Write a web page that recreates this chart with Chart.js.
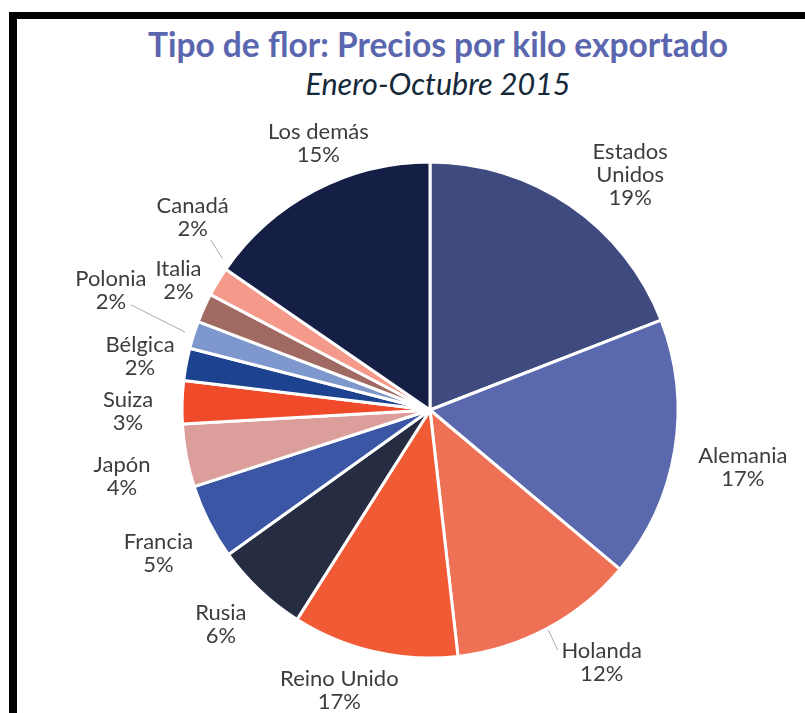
<!DOCTYPE html>
<html>
<head>
<meta charset="utf-8">
<script src="https://cdn.jsdelivr.net/npm/chart.js@4"></script>
<style>
    body { margin: 0; background: #fff; }
    #wrap { position: relative; width: 805px; height: 713px; overflow: hidden; }
    #frame {
        position: absolute; left: 9px; top: 12px; width: 820px; height: 699px;
        border-left: 8px solid #000; border-top: 7px solid #000; border-bottom: 2px solid #555;
    }
    .titulo {
        position: absolute; left: 0; width: 876px; text-align: center;
        font-family: Lato, sans-serif; line-height: 1; white-space: nowrap;
    }
    #t1 { top: 28px; font-size: 33.5px; font-weight: 700; color: #5a66ae; }
    #t2 { top: 68px; font-size: 30.5px; font-style: italic; color: #14283a; }
    canvas { position: absolute; left: 0; top: 0; }
</style>
</head>
<body>
<div id="wrap">
    <div id="frame"></div>
    <div class="titulo" id="t1">Tipo de flor: Precios por kilo exportado</div>
    <div class="titulo" id="t2">Enero-Octubre 2015</div>
    <canvas id="chart" width="805" height="713"></canvas>
</div>
<script>
// paises, en el orden de las agujas del reloj desde arriba
let paises = ["Estados\nUnidos", "Alemania", "Holanda", "Reino Unido", "Rusia", "Francia",
    "Japón", "Suiza", "Bélgica", "Polonia", "Italia", "Canadá", "Los demás"];
// tamaño de cada porcion
let valores = [19.1, 17.0, 12.1, 10.8, 6.1, 4.9, 4.1, 2.8, 2.1, 1.8, 1.9, 1.9, 15.4];
// porcentaje que se muestra en la etiqueta
let textoPct = ["19%", "17%", "12%", "17%", "6%", "5%", "4%", "3%", "2%", "2%", "2%", "2%", "15%"];

let colores = ["#3f4a7e", "#5a68ae", "#ef7155", "#f05a35", "#262d42", "#3a56a5",
    "#dc9e9a", "#ef4a2a", "#1d4290", "#7e97cc", "#a06a62", "#f59a8a", "#151e45"];

// ajuste de etiquetas: [giro en grados, distancia fuera del borde]
let ajuste = [[6, 61], [1, 70], [-6, 57], [5, 46], [1, 51], [-1, 59], [-1.5, 67],
    [-2, 54], [0, 47], [3, 93], [3, 35], [8, 58], [5, 41]];
// lineas guia: indice, desplazamiento desde la etiqueta, distancia al borde, giro
let guias = [
    { i: 2, dx: -44, dy: -12, r: 2, giro: 0 },
    { i: 9, dx: 20, dy: 15, r: 9, giro: 0 },
    { i: 11, dx: 18, dy: 23, r: 9, giro: 5 }
];

const etiquetas = {
    id: "etiquetas",
    afterDatasetsDraw(chart) {
        let ctx = chart.ctx;
        let meta = chart.getDatasetMeta(0);
        ctx.save();
        ctx.font = "22px Lato";
        ctx.fillStyle = "#3d3d3d";
        ctx.textAlign = "center";
        ctx.textBaseline = "alphabetic";
        let pos = [];
        meta.data.forEach((arc, i) => {
            let p = arc.getProps(["x", "y", "startAngle", "endAngle", "outerRadius"], true);
            let mid = (p.startAngle + p.endAngle) / 2;
            let ang = mid + ajuste[i][0] * Math.PI / 180;
            let r = p.outerRadius + ajuste[i][1];
            let lx = p.x + Math.cos(ang) * r;
            let ly = p.y + Math.sin(ang) * r;
            pos[i] = { lx, ly, mid, p };
            let lineas = paises[i].split("\n").concat(textoPct[i]);
            let b1 = ly - (23 * (lineas.length - 1) - 15) / 2;
            lineas.forEach((t, k) => ctx.fillText(t, lx, b1 + k * 23));
        });
        ctx.strokeStyle = "#a8a8a8";
        ctx.lineWidth = 1;
        guias.forEach(g => {
            let q = pos[g.i];
            let a = q.mid + g.giro * Math.PI / 180;
            let rr = q.p.outerRadius + g.r;
            ctx.beginPath();
            ctx.moveTo(q.lx + g.dx, q.ly + g.dy);
            ctx.lineTo(q.p.x + Math.cos(a) * rr, q.p.y + Math.sin(a) * rr);
            ctx.stroke();
        });
        ctx.restore();
    }
};

let chart = new Chart(document.getElementById("chart").getContext("2d"), {
    type: "pie",
    data: {
        labels: paises.map(p => p.replace("\n", " ")),
        datasets: [{
            data: valores,
            backgroundColor: colores,
            borderColor: "#ffffff",
            borderWidth: 3
        }]
    },
    options: {
        responsive: false,
        animation: false,
        devicePixelRatio: 1,
        radius: 248,
        layout: { padding: { left: 155, right: 100, top: 150, bottom: 43 } },
        plugins: {
            legend: { display: false },
            tooltip: { enabled: false }
        }
    },
    plugins: [etiquetas]
});
</script>
</body>
</html>
